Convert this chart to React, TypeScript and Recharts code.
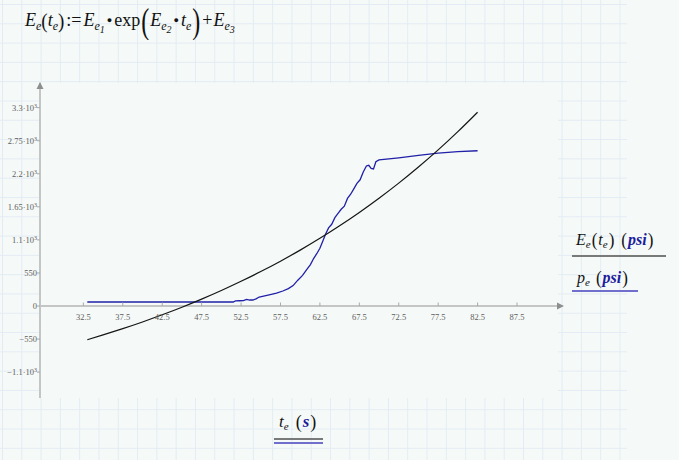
import React from "react";
import {
  LineChart,
  Line,
  XAxis,
  YAxis,
  CartesianGrid,
  ReferenceLine,
  ReferenceDot,
} from "recharts";

// ---------- data ----------
const tFit = [33, 35, 37.5, 40, 42.5, 45, 47.5, 50, 52.5, 55, 57.5, 60, 62.5, 65, 67.5, 70, 72.5, 75, 77.5, 80, 82.5];
const eFit = [-561, -481, -376, -265, -146, -20, 115, 258, 411, 573, 746, 930, 1126, 1335, 1557, 1793, 2044, 2312, 2597, 2901, 3224];

const tMeas = [33, 51.5, 51.8, 52.3, 52.8, 53.2, 53.6, 54.0, 54.4, 54.8, 55.5, 56.2, 57.0, 57.8, 58.5, 59.1, 59.7, 60.3, 60.8, 61.3, 61.7, 62.1, 62.5, 62.9, 63.2, 63.6, 64.0, 64.4, 64.8, 65.2, 65.6, 66.0, 66.4, 66.8, 67.2, 67.6, 68.0, 68.4, 68.7, 69.0, 69.3, 69.6, 70.0, 72.5, 75, 77.5, 80, 82.5];
const pMeas = [67, 67, 85, 88, 90, 111, 100, 100, 120, 150, 170, 190, 215, 250, 290, 340, 430, 510, 600, 690, 790, 870, 960, 1090, 1190, 1300, 1360, 1470, 1540, 1610, 1660, 1790, 1860, 1950, 2040, 2100, 2230, 2330, 2340, 2290, 2280, 2400, 2430, 2465, 2505, 2545, 2567, 2583];

const xTicks = [32.5, 37.5, 42.5, 47.5, 52.5, 57.5, 62.5, 67.5, 72.5, 77.5, 82.5, 87.5];
const yTicks = [-1100, -550, 0, 550, 1100, 1650, 2200, 2750, 3300];
const yTickLabels = ["\u22121.1\u00b710^3", "\u2212550", "0", "550", "1.1\u00b710^3", "1.65\u00b710^3", "2.2\u00b710^3", "2.75\u00b710^3", "3.3\u00b710^3"];

const X_DOMAIN: [number, number] = [27.0, 92.7];
const Y_DOMAIN: [number, number] = [-1530, 3710];

const eData = tFit.map((t, i) => ({ t, v: eFit[i] }));
const pData = tMeas.map((t, i) => ({ t, v: pMeas[i] }));

// ---------- layout ----------
const W = 679;
const H = 460;
const PLOT_LEFT = 40;
const PLOT_TOP = 83;
const PLOT_RIGHT = 558;
const PLOT_BOTTOM = 398;
const X_AXIS_H = 20;
const PLOT_H = PLOT_BOTTOM - PLOT_TOP;
const ZERO_Y = PLOT_TOP + (PLOT_H * (Y_DOMAIN[1] - 0)) / (Y_DOMAIN[1] - Y_DOMAIN[0]);

const SERIF = '"Liberation Serif", "DejaVu Serif", serif';
const AXIS_GRAY = "#c3c6c5";
const TICK_TEXT = "#5e5e5e";
const BLUE_TEXT = "#1c1c9c";

const XTick = (props: any) => {
  const { x, payload } = props;
  return (
    <g>
      <line x1={x} x2={x} y1={ZERO_Y - 3.5} y2={ZERO_Y} stroke="#a8aaa9" strokeWidth={1} />
      <text x={x} y={ZERO_Y + 14} textAnchor="middle" fontFamily={SERIF} fontSize={8.5} fill={TICK_TEXT}>
        {String(payload.value)}
      </text>
    </g>
  );
};

const YTick = (props: any) => {
  const { y, payload } = props;
  const idx = yTicks.indexOf(payload.value);
  const label = idx >= 0 ? yTickLabels[idx] : String(payload.value);
  const parts = label.split("^");
  return (
    <g>
      <line x1={PLOT_LEFT - 3} x2={PLOT_LEFT} y1={y} y2={y} stroke="#a8aaa9" strokeWidth={1} />
      <text x={PLOT_LEFT - 3} y={y + 3} textAnchor="end" fontFamily={SERIF} fontSize={8.5} fill={TICK_TEXT}>
        {parts[0]}
        {parts.length > 1 ? (
          <tspan dy={-3} fontSize={6}>
            {parts[1]}
          </tspan>
        ) : null}
      </text>
    </g>
  );
};

const ArrowRight = (props: any) => {
  const { cx, cy } = props;
  return <path d={`M${cx - 1},${cy - 3.5} L${cx + 6},${cy} L${cx - 1},${cy + 3.5} Z`} fill="#8c8f8e" />;
};
const ArrowUp = (props: any) => {
  const { cx, cy } = props;
  return <path d={`M${cx - 3.5},${cy + 6} L${cx},${cy - 1} L${cx + 3.5},${cy + 6} Z`} fill="#8c8f8e" />;
};

const Sub = ({ children, top = 4, fs = 12 }: any) => (
  <span style={{ fontSize: fs, position: "relative", top }}>{children}</span>
);
const N = ({ children, style }: any) => <span style={{ fontStyle: "normal", ...style }}>{children}</span>;
const Big = ({ children, fs = 24, sy = 1.45, top = 3, m = 1 }: any) => (
  <span
    style={{
      fontStyle: "normal",
      display: "inline-block",
      fontSize: fs,
      transform: `scaleY(${sy})`,
      position: "relative",
      top,
      margin: `0 ${m}px`,
    }}
  >
    {children}
  </span>
);
const Dot = () => (
  <span style={{ fontStyle: "normal", fontSize: 9, position: "relative", top: -3, margin: "0 2px" }}>{"\u25cf"}</span>
);

export default function App() {
  return (
    <div style={{ position: "absolute", left: 0, top: 0, width: W, height: H, background: "#f5f9f7", overflow: "hidden" }}>
      {/* worksheet grid */}
      <div
        style={{
          position: "absolute",
          left: 0,
          top: 0,
          width: 627,
          height: H,
          backgroundImage:
            "linear-gradient(to right, #e3ecf5 1px, transparent 1px), linear-gradient(to bottom, #e3ecf5 1px, transparent 1px)",
          backgroundSize: "19.3px 19.3px",
          backgroundPosition: "2px 4px",
        }}
      />

      {/* formula */}
      <div
        style={{
          position: "absolute",
          left: 25,
          top: 7,
          fontFamily: SERIF,
          fontSize: 18,
          fontStyle: "italic",
          color: "#111",
          whiteSpace: "nowrap",
          lineHeight: "22px",
        }}
      >
        E<Sub>e</Sub>
        <Big fs={19} sy={1.15} top={1} m={0}>(</Big>t<Sub>e</Sub>
        <Big fs={19} sy={1.15} top={1} m={0}>)</Big>
        <N style={{ margin: "0 2px" }}>:=</N>E
        <Sub>
          e<Sub top={3} fs={10}>1</Sub>
        </Sub>
        <Dot />
        <N>exp</N>
        <Big m={1}>(</Big>E
        <Sub>
          e<Sub top={3} fs={10}>2</Sub>
        </Sub>
        <Dot />t<Sub>e</Sub>
        <Big m={1}>)</Big>
        <N style={{ margin: "0 1px" }}>+</N>E
        <Sub>
          e<Sub top={3} fs={10}>3</Sub>
        </Sub>
      </div>

      {/* chart */}
      <div style={{ position: "absolute", left: 0, top: 0 }}>
        <LineChart
          width={W}
          height={H}
          margin={{ top: PLOT_TOP, right: W - PLOT_RIGHT, bottom: H - PLOT_BOTTOM - X_AXIS_H, left: 0 }}
        >
          <CartesianGrid horizontal={false} vertical={false} fill="#f5f9f7" />
          <XAxis
            type="number"
            dataKey="t"
            domain={X_DOMAIN}
            ticks={xTicks}
            interval={0}
            allowDataOverflow
            height={X_AXIS_H}
            axisLine={false}
            tickLine={false}
            tick={<XTick />}
          />
          <YAxis
            type="number"
            domain={Y_DOMAIN}
            ticks={yTicks}
            interval={0}
            allowDataOverflow
            width={PLOT_LEFT}
            axisLine={{ stroke: AXIS_GRAY, strokeWidth: 2 }}
            tickLine={false}
            tick={<YTick />}
          />
          <ReferenceLine y={0} stroke={AXIS_GRAY} strokeWidth={2} />
          <ReferenceDot x={X_DOMAIN[1]} y={0} ifOverflow="visible" shape={<ArrowRight />} />
          <ReferenceDot x={X_DOMAIN[0]} y={Y_DOMAIN[1]} ifOverflow="visible" shape={<ArrowUp />} />
          <Line
            data={pData}
            dataKey="v"
            type="linear"
            stroke="#2020a8"
            strokeWidth={1.3}
            dot={false}
            isAnimationActive={false}
          />
          <Line
            data={eData}
            dataKey="v"
            type="monotone"
            stroke="#151515"
            strokeWidth={1.2}
            dot={false}
            isAnimationActive={false}
          />
        </LineChart>
      </div>

      {/* legend */}
      <div
        style={{
          position: "absolute",
          left: 576,
          top: 230,
          fontFamily: SERIF,
          fontSize: 16,
          fontStyle: "italic",
          color: "#111",
          whiteSpace: "nowrap",
          lineHeight: "19px",
        }}
      >
        E<Sub top={3} fs={11}>e</Sub>
        <Big fs={17} sy={1.1} top={0}>(</Big>t<Sub top={3} fs={11}>e</Sub>
        <Big fs={17} sy={1.1} top={0}>)</Big>
        <span style={{ marginLeft: 5 }} />
        <Big fs={17} sy={1.1} top={0}>(</Big>
        <span style={{ color: BLUE_TEXT, fontWeight: "bold" }}>psi</span>
        <Big fs={17} sy={1.1} top={0}>)</Big>
      </div>
      <div style={{ position: "absolute", left: 572, top: 254.5, width: 94, height: 2, background: "#777a79" }} />
      <div
        style={{
          position: "absolute",
          left: 577,
          top: 268,
          fontFamily: SERIF,
          fontSize: 16,
          fontStyle: "italic",
          color: "#111",
          whiteSpace: "nowrap",
          lineHeight: "19px",
        }}
      >
        p<Sub top={3} fs={11}>e</Sub>
        <span style={{ marginLeft: 5 }} />
        <Big fs={17} sy={1.1} top={0}>(</Big>
        <span style={{ color: BLUE_TEXT, fontWeight: "bold" }}>psi</span>
        <Big fs={17} sy={1.1} top={0}>)</Big>
      </div>
      <div style={{ position: "absolute", left: 572, top: 289.5, width: 66, height: 2, background: "#7070cc" }} />

      {/* x axis label */}
      <div
        style={{
          position: "absolute",
          left: 279,
          top: 411,
          fontFamily: SERIF,
          fontSize: 17,
          fontStyle: "italic",
          color: "#111",
          whiteSpace: "nowrap",
          lineHeight: "20px",
        }}
      >
        t<Sub top={3} fs={11}>e</Sub>
        <span style={{ marginLeft: 6 }} />
        <Big fs={18} sy={1.1} top={0}>(</Big>
        <span style={{ color: BLUE_TEXT, fontWeight: "bold" }}>s</span>
        <Big fs={18} sy={1.1} top={0}>)</Big>
      </div>
      <div style={{ position: "absolute", left: 274, top: 438, width: 49, height: 2, background: "#777a79" }} />
      <div style={{ position: "absolute", left: 274, top: 442, width: 49, height: 2, background: "#7070cc" }} />
    </div>
  );
}
